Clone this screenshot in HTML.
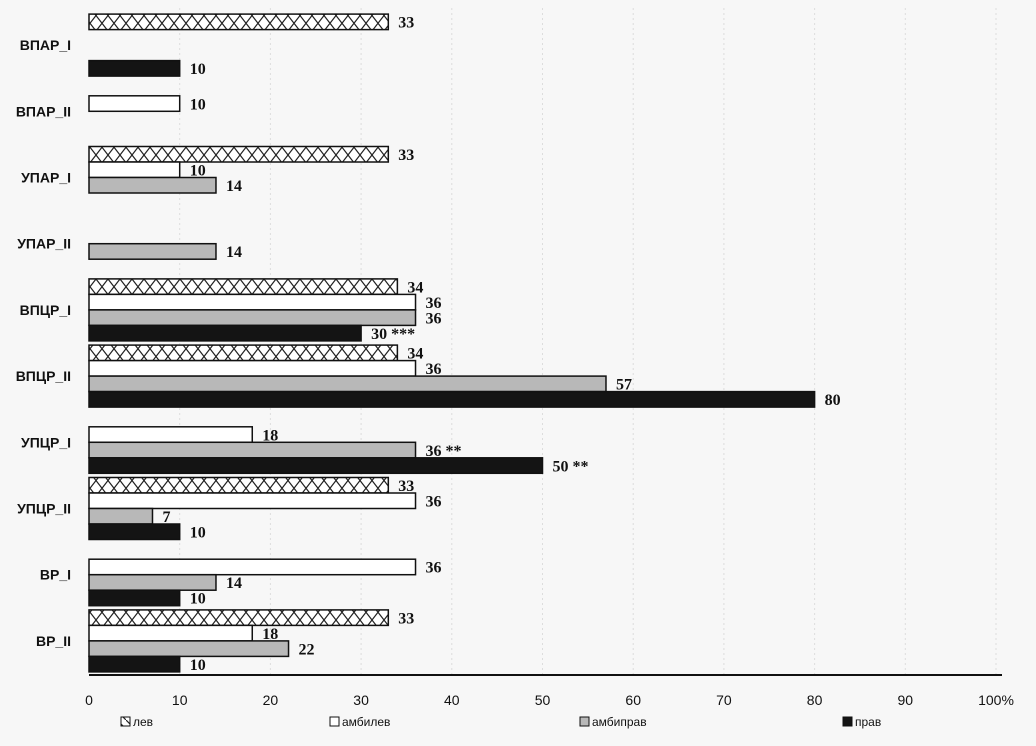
<!DOCTYPE html>
<html><head><meta charset="utf-8"><style>
body{margin:0;background:#f7f7f7;}
svg{display:block;}
.cat{font-family:"Liberation Sans",sans-serif;font-weight:bold;font-size:14px;fill:#111;}
.val{font-family:"Liberation Serif",serif;font-weight:bold;font-size:16px;fill:#111;}
.tick{font-family:"Liberation Sans",sans-serif;font-size:14px;fill:#111;}
.leg{font-family:"Liberation Sans",sans-serif;font-size:12px;fill:#111;}
</style></head><body>
<svg id="chart" width="1036" height="746">
<defs>
<pattern id="hatch" width="12" height="15.5" patternUnits="userSpaceOnUse">
<rect width="12" height="15.5" fill="#fff"/>
<path d="M0,0 L12,15.5 M12,0 L0,15.5" stroke="#222" stroke-width="1.2"/>
</pattern>
<pattern id="hatchS" width="9" height="9" patternUnits="userSpaceOnUse">
<rect width="9" height="9" fill="#fff"/>
<path d="M0,0 L9,9" stroke="#222" stroke-width="1.2"/>
</pattern>
</defs>
</svg>
<script>
const categories=["ВПАР_I","ВПАР_II","УПАР_I","УПАР_II","ВПЦР_I","ВПЦР_II","УПЦР_I","УПЦР_II","ВР_I","ВР_II"];
const seriesNames=["лев","амбилев","амбиправ","прав"];
const lev=[33,null,33,null,34,34,null,33,null,33];
const ambilev=[null,10,10,null,36,36,18,36,36,18];
const ambiprav=[null,null,14,14,36,57,36,7,14,22];
const prav=[10,null,null,null,30,80,50,10,10,10];
const suffixes=[["","","",""],["","","",""],["","","",""],["","","",""],["","",""," ***"],["","","",""],["",""," **"," **"],["","","",""],["","","",""],["","","",""]];
const ticks=[0,10,20,30,40,50,60,70,80,90,100];
const series=[lev,ambilev,ambiprav,prav];
const fills=["url(#hatch)","#ffffff","#b8b8b8","#141414"];
const legFills=["url(#hatchS)","#ffffff","#b8b8b8","#141414"];
const NS="http://www.w3.org/2000/svg";
const svg=document.getElementById('chart');
const x0=89,x1=996,yTop=12,groupH=66.2,slot=15.5;
const xs=v=>x0+(x1-x0)*v/100;
const gc=i=>yTop+groupH*i+groupH/2;
function mk(t,a){const e=document.createElementNS(NS,t);for(const k in a)e.setAttribute(k,a[k]);svg.appendChild(e);return e;}
ticks.forEach((t)=>{
if(t!==0){
const g=mk('line',{x1:xs(t),x2:xs(t),y1:8,y2:675,stroke:'#ddd','stroke-dasharray':'2,3'});


}
const tx=mk('text',{x:xs(t),y:705,'text-anchor':'middle',class:'tick'});tx.textContent=t===100?'100%':t;


});
categories.forEach((c,i)=>{
const cy=gc(i);
const lb=mk('text',{x:71,y:cy+5,'text-anchor':'end',class:'cat'});lb.textContent=c;


series.forEach((s,j)=>{
const v=s[i];if(v==null)return;
const y=cy-2*slot+j*slot;
const r=mk('rect',{x:x0,y:y,width:xs(v)-x0,height:slot,fill:fills[j],stroke:'#111','stroke-width':1.5});


const t=mk('text',{x:xs(v)+10,y:y+slot-2,class:'val'});t.textContent=v+suffixes[i][j];


});
});
const ax=mk('line',{x1:x0,x2:x1+6,y1:675,y2:675,stroke:'#111','stroke-width':2});


const legX=[121,330,580,843];
seriesNames.forEach((n,j)=>{
const r=mk('rect',{x:legX[j],y:717,width:9,height:9,fill:legFills[j],stroke:'#111','stroke-width':1});


const t=mk('text',{x:legX[j]+12,y:726,class:'leg'});t.textContent=n;


});
</script>
</body></html>
